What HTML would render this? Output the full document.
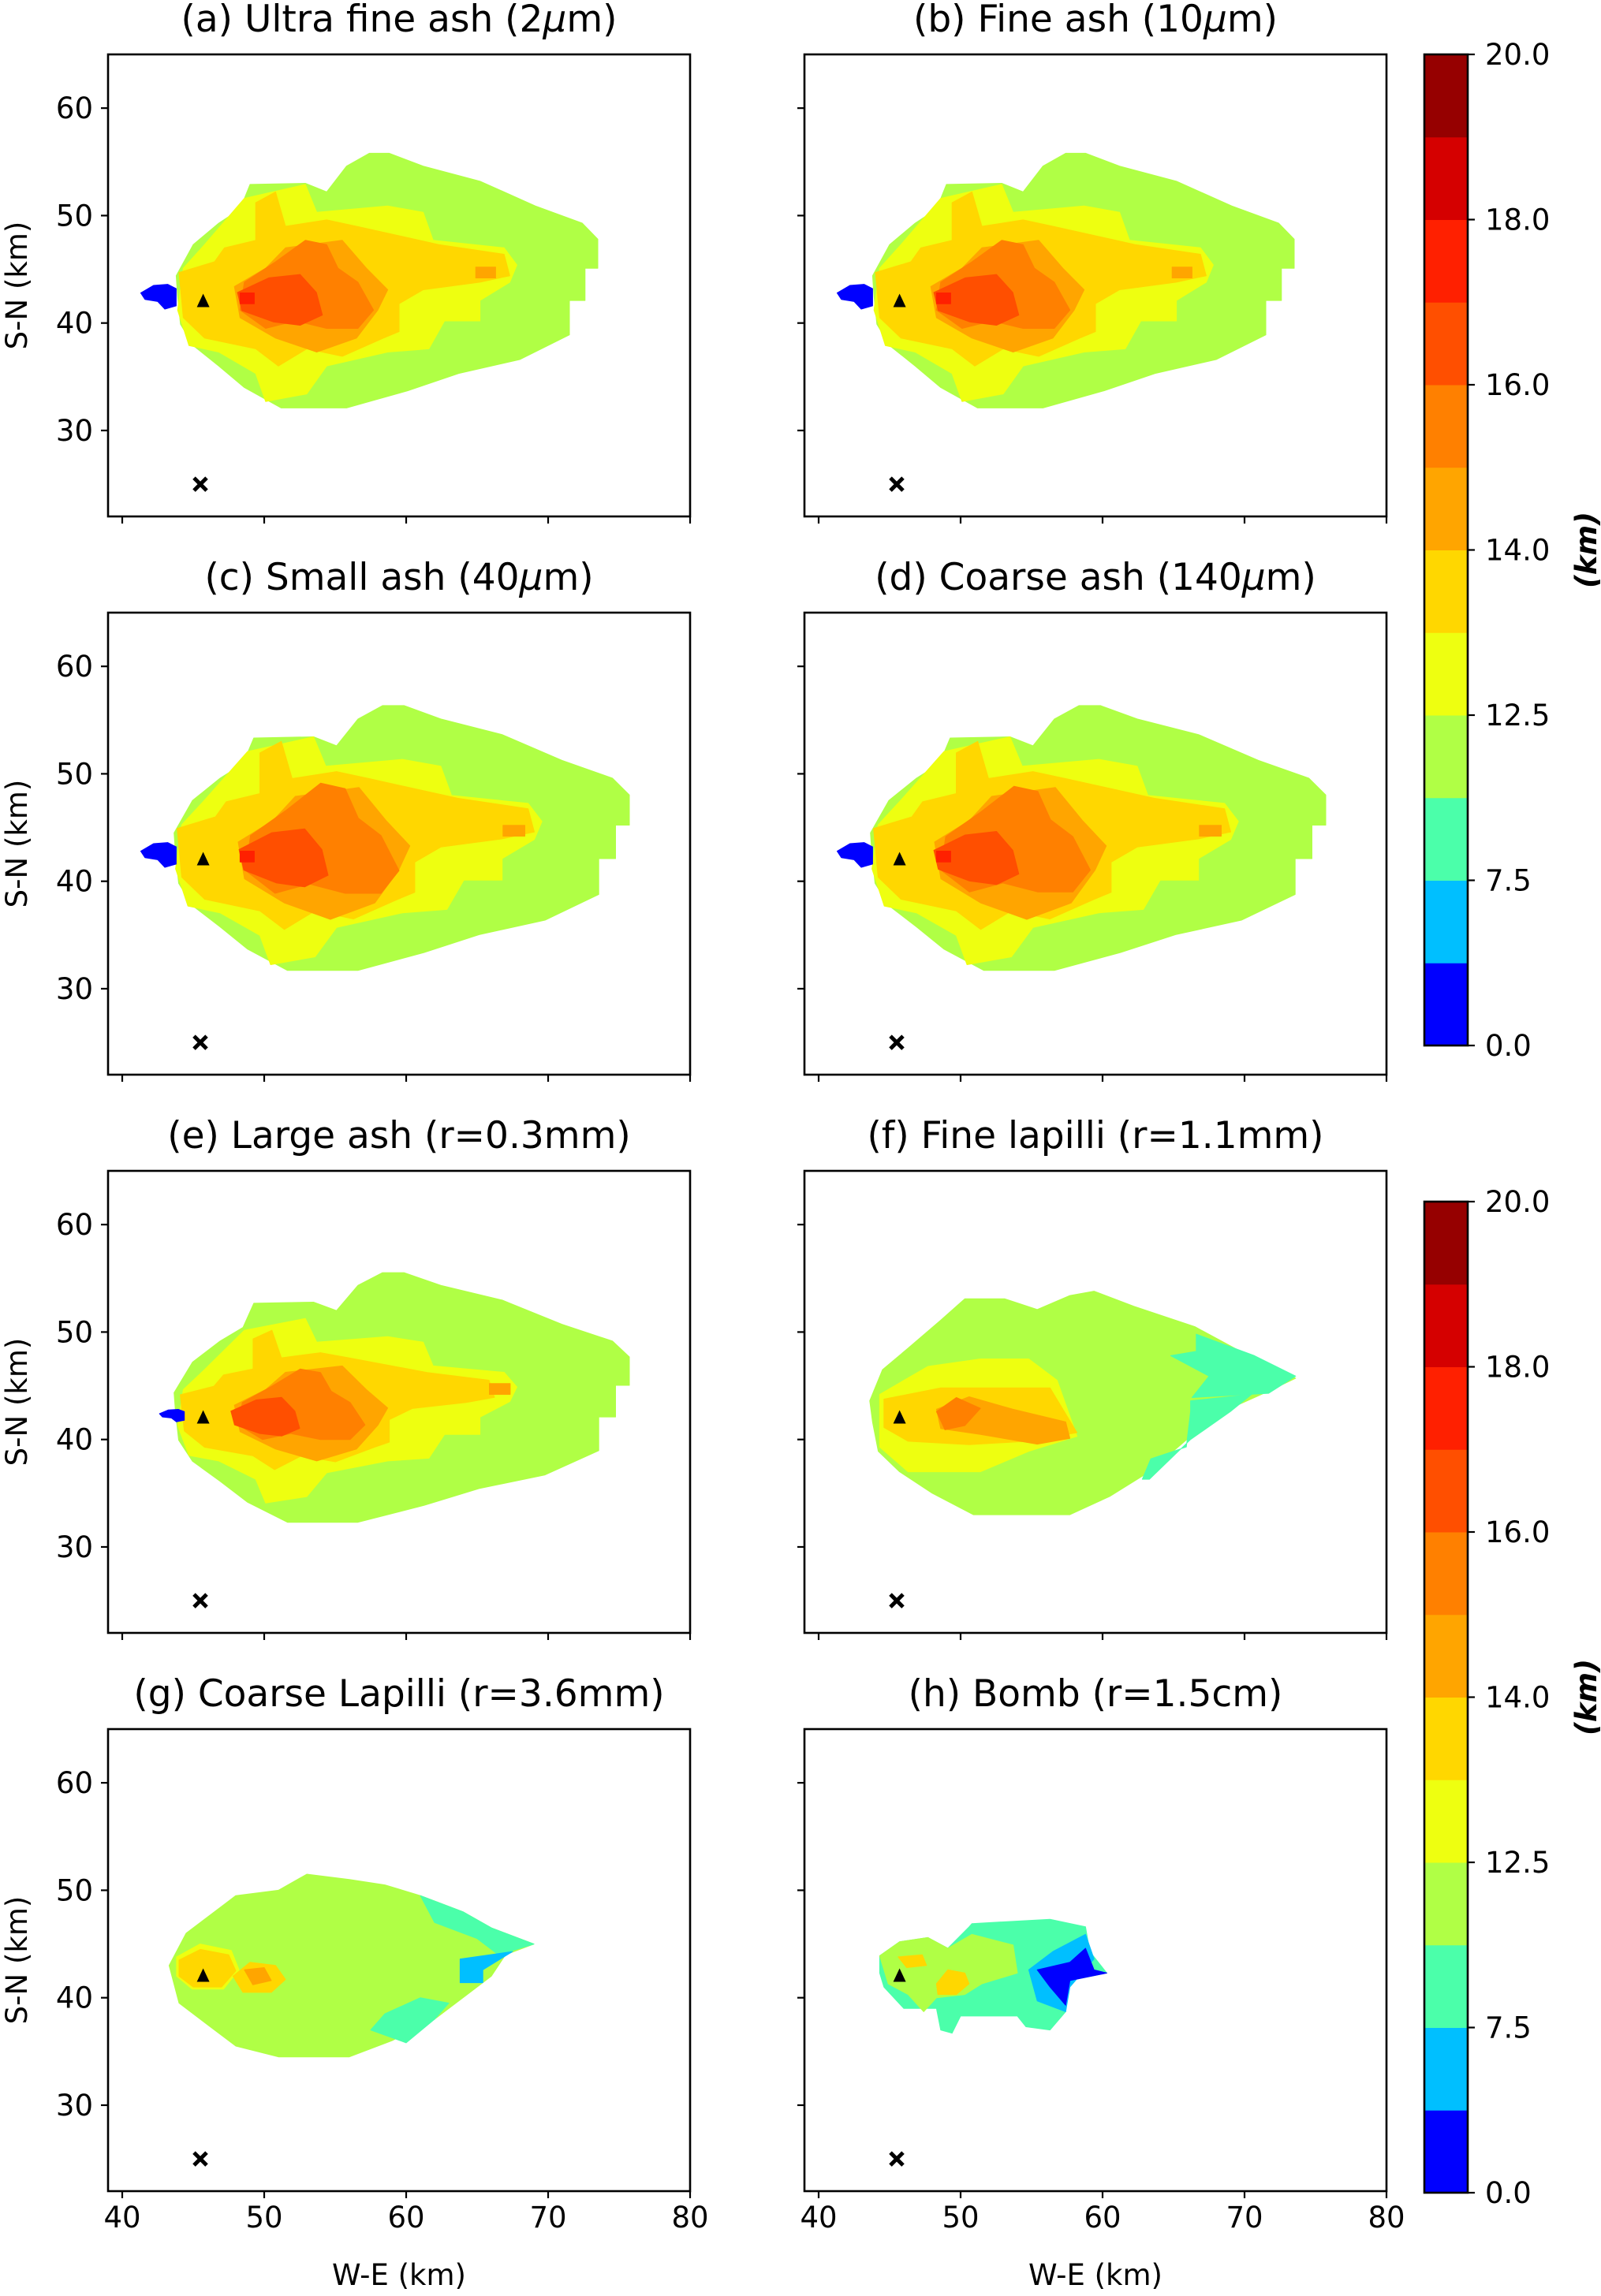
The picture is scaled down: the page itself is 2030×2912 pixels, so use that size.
<!DOCTYPE html>
<html><head><meta charset="utf-8"><style>
html,body{margin:0;padding:0;background:#fff;}
svg text{font-family:"DejaVu Sans","Liberation Sans",sans-serif;fill:#000;}
</style></head><body>
<svg id="fig" xmlns="http://www.w3.org/2000/svg" width="2030" height="2907" viewBox="0 0 2030 2907"></svg>
<script>
// ---- data ----
const levelColors = ["#0000ff","#00bfff","#4bffaa","#b0ff45","#eeff10","#ffd700","#ffa500","#ff8000","#ff4f00","#ff2000","#d50000","#960000"];
const cbarTickLabels = ["0.0","7.5","12.5","14.0","16.0","18.0","20.0"];
const cbarTickIdx = [0,2,4,6,8,10,12];
const xTicks = [40,50,60,70,80];
const yTicks = [30,40,50,60];
const titles = [["(a) Ultra fine ash (2","\u03bc","m)"],["(b) Fine ash (10","\u03bc","m)"],["(c) Small ash (40","\u03bc","m)"],["(d) Coarse ash (140","\u03bc","m)"],["(e) Large ash (r=0.3mm)"],["(f) Fine lapilli (r=1.1mm)"],["(g) Coarse Lapilli (r=3.6mm)"],["(h) Bomb (r=1.5cm)"]];
const vent = [45.7,42];
const station = [45.5,25];
const envA = [[43.8,44.4],[45,47.3],[46.8,49.3],[48.3,50.6],[49,52.9],[52.9,53],[54.4,52.2],[55.8,54.6],[57.4,55.8],[58.8,55.8],[61.2,54.6],[65.2,53.2],[69.1,50.9],[72.4,49.3],[73.5,47.8],[73.5,45.1],[72.6,45.1],[72.6,42.1],[71.5,42.1],[71.5,38.9],[68,36.6],[63.7,35.3],[60.1,33.7],[55.8,32.1],[51.2,32.1],[48.6,34],[46.8,36],[45,37.9],[44.1,39.9],[43.9,42.5]];
const ygA = [[44.3,45.1],[45.8,47.3],[48.6,51.6],[52.9,52.9],[53.7,50.3],[58.7,50.9],[61.2,50.3],[61.9,47.7],[66.9,47],[67.8,45.4],[67.3,43.8],[65.2,42.1],[65.2,40.2],[62.7,40.2],[61.6,37.6],[58.7,37.3],[54.4,36],[53,33.4],[50.1,32.7],[49.4,35.3],[46.8,37.3],[44.7,37.9],[43.9,41.2]];
const goldA = [[44,44.7],[46.5,45.7],[47.2,47],[49.4,47.7],[49.4,51.2],[50.8,52.2],[51.5,49],[54.4,49.6],[56.5,49],[62.3,47.3],[66.9,46.4],[67.3,44.4],[65.2,43.8],[61.2,43.1],[59.5,41.8],[59.5,39.2],[58.4,38.6],[55.5,36.9],[53,37.6],[51,36],[49.4,37.6],[45.8,38.6],[44.3,40.5]];
const oyA = [[47.9,43.4],[50.1,45.1],[51.5,47],[55.5,47.7],[57.2,45.1],[58.7,43.1],[58,41.2],[56.5,38.6],[53.7,37.3],[50.8,38.6],[48.3,40.5]];
const oyB = [[64.9,45.2],[66.3,45.2],[66.3,44.2],[64.9,44.2]];
const orA = [[48.6,43.8],[50.8,45.7],[52.9,47.7],[54.4,47.3],[55.2,45.1],[56.6,43.8],[57.7,41.2],[56.6,39.5],[54.4,39.5],[52.2,40.2],[50.1,39.5],[48.3,41.2]];
const roA = [[48,42.8],[50.1,44.1],[52.2,44.4],[53.3,42.8],[53.7,40.8],[52.2,39.9],[50.4,40.2],[48.3,41.2]];
const rdA = [[48.3,42.8],[49.3,42.8],[49.3,41.8],[48.3,41.8]];
const blueA = [[41.3,42.8],[42.2,43.5],[43.2,43.6],[43.8,43.2],[43.8,41.6],[43,41.3],[42.5,42],[41.6,42.2]];
const envF = [[43.6,43.6],[44.5,46.5],[46.3,48.5],[48.6,51.1],[50.3,53.1],[53.1,53.1],[55.4,52.1],[57.7,53.4],[59.4,53.8],[62.2,52.4],[66.5,50.5],[70.7,47.5],[72.6,46.5],[73.6,45.7],[71.7,44.5],[69,42.9],[66.2,40.3],[63.3,37],[60.5,34.7],[57.7,33],[50.9,33],[48,35],[45.7,37],[44.2,38.9],[43.8,41.6]];
const cyF1 = [[66.6,49.8],[70.7,47.8],[73.6,45.9],[71.7,44.3],[66.3,43.9],[67.5,45.9],[64.8,47.8],[66.6,48.2]];
const cyF2 = [[66.2,43.6],[70.5,44.2],[69,42.6],[66.2,40],[63.3,36.3],[62.8,36.3],[63.4,38.2],[65.9,39.3],[66.2,42.6]];
const ygF = [[44.3,44.2],[47.7,46.8],[51.4,47.5],[54.8,47.5],[56.8,45.5],[58.2,40.3],[54.8,38.9],[51.4,37],[46.3,37],[44.3,39.3]];
const goldF = [[44.6,44.2],[48.6,45.5],[52.6,45.5],[56.3,45.5],[58.2,40.3],[54.8,39.3],[50.6,38.9],[46.3,39.3],[44.6,40.9]];
const oyF = [[48.3,42.9],[50.6,44.2],[53.7,42.9],[57.4,41.6],[57.7,39.9],[55.4,39.3],[51.4,40.3],[48.6,40.9]];
const orF = [[48.3,42.6],[49.7,43.9],[51.4,42.9],[50.3,41.3],[48.9,40.9]];
const envG = [[43.3,43],[44.5,46],[46.5,48],[48,49.5],[51,50],[53,51.5],[56,51],[58.5,50.5],[61,49.5],[64,48],[66,46.5],[69,45],[67,44],[66,42],[64,40],[62,38],[59,36],[56,34.5],[51,34.5],[48,35.5],[46,37.5],[44,39.5]];
const cyG1 = [[61,49.5],[64,48],[66,46.5],[69,45],[66.5,44],[65,45.5],[62,47]];
const lbG = [[63.8,43.6],[67.5,44.3],[65.4,42.6],[65.4,41.4],[63.8,41.4]];
const cyG2 = [[57.5,37],[60,35.8],[62,38],[63,39.5],[61,40],[58.5,38.5]];
const goldG1 = [[44,43.5],[45.5,44.5],[47.5,44],[48,42.5],[47,41],[45,41],[44,42]];
const goldG2 = [[47.8,42],[49,43.3],[50.8,43],[51.5,41.7],[50.5,40.5],[48.5,40.5]];
const oyG = [[48.6,42.6],[50,42.8],[50.5,41.6],[49.2,41.2]];
const envH = [[44.3,43.9],[45.7,45.2],[47.7,45.6],[49.1,44.6],[50.6,46.6],[50.8,46.9],[56.3,47.3],[58.8,46.6],[59.1,44.3],[60.3,42.3],[57.7,41.6],[57.4,38.7],[56.3,37],[54.6,37.3],[54,38.3],[50,38.3],[49.4,36.7],[48.6,37],[48.3,39],[46,39],[44.6,41],[44.3,42.3]];
const grH = [[44.3,43.9],[45.7,45.2],[47.7,45.6],[49.1,44.6],[50.8,45.9],[53.7,44.9],[54,42.3],[51.5,41.3],[50.3,40.3],[48.3,40],[47.4,38.7],[46.3,40.3],[44.9,41.3]];
const lbH = [[54.8,42.6],[56.5,44.3],[58.8,45.9],[59.4,43.6],[57.7,41],[57.4,38.7],[55.4,39.7]];
const blH = [[55.4,42.6],[57.7,43.3],[58.8,44.6],[59.4,42.6],[60.3,42.3],[57.7,41.6],[57.4,39.3],[56.3,41]];
const goldH1 = [[45.6,43.8],[47.3,44],[47.6,43],[46.2,42.8]];
const goldH2 = [[48.3,41.3],[49.1,42.6],[50.3,42.3],[50.6,41.3],[49.7,40.3],[48.4,40.3]];
const panelLayers = [
 [[3,envA,1,1],[4,ygA,1,1],[5,goldA,1,1],[6,oyA,1,1],[6,oyB,1,1],[7,orA,1,1],[8,roA,1.05,1.05],[9,rdA,1,1],[0,blueA,1,1]],
 [[3,envA,1,1],[4,ygA,1,1],[5,goldA,1,1],[6,oyA,1,1],[6,oyB,1,1],[7,orA,1,1],[8,roA,1.05,1.05],[9,rdA,1,1],[0,blueA,1,1]],
 [[3,envA,1.08,1.04],[4,ygA,1.08,1.05],[5,goldA,1.08,1.08],[6,oyA,1.12,1.18],[6,oyB,1.1,1],[7,orA,1.15,1.25],[8,roA,1.1,1.2],[9,rdA,1,1],[0,blueA,1,1]],
 [[3,envA,1.08,1.04],[4,ygA,1.08,1.05],[5,goldA,1.08,1.08],[6,oyA,1.12,1.18],[6,oyB,1.1,1],[7,orA,1.12,1.2],[8,roA,1.05,1.1],[9,rdA,1,1],[0,blueA,1,1]],
 [[3,envA,1.08,0.98],[4,ygA,1.0,0.85],[5,goldA,0.95,0.8],[6,oyA,1.0,0.85],[6,oyB,1.05,1],[7,orA,0.95,0.8],[8,roA,0.85,0.8],[0,blueA,0.7,0.5]],
 [[3,envF,1,1],[2,cyF1,1,1],[2,cyF2,1,1],[4,ygF,1,1],[5,goldF,1,0.8],[6,oyF,1,0.9],[7,orF,1,1]],
 [[3,envG,1,1],[2,cyG1,1,1],[2,cyG2,1,1],[1,lbG,1,1],[4,goldG1,1.1,1.2],[5,goldG1,1,1],[5,goldG2,1,1],[6,oyG,1,1]],
 [[2,envH,1,1],[3,grH,1,1],[1,lbH,1,1],[0,blH,1,1],[5,goldH1,1,1],[5,goldH2,1,1]]
];
const NS="http://www.w3.org/2000/svg";
const svg=document.getElementById('fig');
const colX=[137,1020], rowY=[69,777,1485,2193], PW=738, PH=586;
const xMin=39, xMax=80, yMin=22, yMax=65;
function mk(tag,attrs,parent){const e=document.createElementNS(NS,tag);for(const k in attrs)e.setAttribute(k,attrs[k]);(parent||svg).appendChild(e);return e;}
for(let p=0;p<8;p++){
  const col=p%2,row=Math.floor(p/2),x0=colX[col],y0=rowY[row];
  const sx=v=>x0+(v-xMin)/(xMax-xMin)*PW;
  const sy=v=>y0+(yMax-v)/(yMax-yMin)*PH;
  const g=mk('g',{});
  
  
  const cp=mk('clipPath',{id:'cp'+p},g);mk('rect',{x:x0,y:y0,width:PW,height:PH},cp);
  const plot=mk('g',{'clip-path':'url(#cp'+p+')'},g);
  panelLayers[p].forEach((L,i)=>{
    const pts=L[1].map(q=>sx(vent[0]+(q[0]-vent[0])*L[2]).toFixed(1)+','+sy(vent[1]+(q[1]-vent[1])*L[3]).toFixed(1)).join(' ');
    const pg=mk('polygon',{points:pts,fill:levelColors[L[0]],'stroke':levelColors[L[0]],'stroke-width':1,'stroke-linejoin':'round'},plot);
    
    
  });
  const vx=sx(vent[0]),vy=sy(vent[1]);
  const tri=mk('polygon',{points:`${vx},${vy-10} ${vx-8},${vy+7} ${vx+8},${vy+7}`,fill:'#000'},g);
  
  
  const cx=sx(station[0]),cy=sy(station[1]);
  const xm=mk('path',{d:`M${cx-8},${cy-8}L${cx+8},${cy+8}M${cx-8},${cy+8}L${cx+8},${cy-8}`,stroke:'#000','stroke-width':5},g);
  
  
  const fr=mk('rect',{x:x0,y:y0,width:PW,height:PH,fill:'none',stroke:'#000','stroke-width':2.6},g);
  
  
  xTicks.forEach(t=>{
    mk('line',{x1:sx(t),x2:sx(t),y1:y0+PH,y2:y0+PH+9,stroke:'#000','stroke-width':2.2},g);
    if(row===3){const tx=mk('text',{x:sx(t),y:y0+PH+46,'font-size':37,'text-anchor':'middle'},g);tx.textContent=t;
      
      }
  });
  yTicks.forEach(t=>{
    mk('line',{x1:x0,x2:x0-9,y1:sy(t),y2:sy(t),stroke:'#000','stroke-width':2.2},g);
    if(col===0){const tx=mk('text',{x:x0-19,y:sy(t)+13,'font-size':37,'text-anchor':'end'},g);tx.textContent=t;
      
      }
  });
  const tt=mk('text',{x:x0+PW/2,y:y0-29,'font-size':47,'text-anchor':'middle'},g);
  titles[p].forEach((s,j)=>{const ts=mk('tspan',j===1?{'font-style':'italic'}:{},tt);ts.textContent=s;});
  
  
  if(col===0){const yl=mk('text',{x:0,y:0,'font-size':37,'text-anchor':'middle',transform:`translate(34,${y0+PH/2}) rotate(-90)`},g);yl.textContent='S-N (km)';
    
    }
  if(row===3){const xl=mk('text',{x:x0+PW/2,y:2898,'font-size':37,'text-anchor':'middle'},g);xl.textContent='W-E (km)';
    
    }
}
[[69,1326],[1524,2781]].forEach((cb,k)=>{
  const g=mk('g',{});
  
  
  const x0=1806,w=55,top=cb[0],bot=cb[1],n=levelColors.length,h=(bot-top)/n;
  levelColors.forEach((c,i)=>{const r=mk('rect',{x:x0,y:bot-(i+1)*h,width:w,height:h+0.5,fill:c},g);
    
    });
  mk('rect',{x:x0,y:top,width:w,height:bot-top,fill:'none',stroke:'#000','stroke-width':2.6},g);
  cbarTickIdx.forEach((ix,j)=>{const y=bot-ix*h;
    mk('line',{x1:x0+w,x2:x0+w+9,y1:y,y2:y,stroke:'#000','stroke-width':2.2},g);
    const t=mk('text',{x:x0+w+22,y:y+13,'font-size':37},g);t.textContent=cbarTickLabels[j];
    
    });
  const lab=mk('text',{x:0,y:0,'font-size':37,'font-weight':'bold','font-style':'italic','text-anchor':'middle',transform:`translate(2024,${(top+bot)/2}) rotate(-90)`},g);lab.textContent='(km)';
  
  
});
</script>
</body></html>
